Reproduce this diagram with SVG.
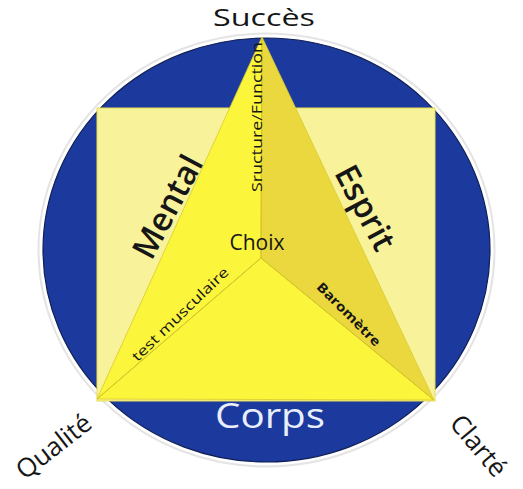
<svg xmlns="http://www.w3.org/2000/svg" width="523" height="489" viewBox="0 0 523 489">
<style>
text{font-family:"Open Sans","Noto Sans","DejaVu Sans",sans-serif;fill:#161616}
.big{font-size:33px;font-weight:600}
.corner{font-size:26px}
.face{stroke:#d9cc2a;stroke-width:0.8;stroke-linejoin:round}
.edge{stroke:#d4c428;stroke-width:1;fill:none}
</style>
<rect width="523" height="489" fill="#ffffff"/>
<g id="circle">
<ellipse cx="266.5" cy="250" rx="228" ry="216.5" fill="none" stroke="#e4e4e4" stroke-width="2"/>
<ellipse cx="266.5" cy="250" rx="223.5" ry="212" fill="#1c3a9e" stroke="#0f1f55" stroke-width="1.2"/>
</g>
<g id="square">
<rect x="97" y="108" width="338" height="293" fill="#f8f29b" stroke="#e6dc50" stroke-width="1"/>
</g>
<g id="triangle">
<polygon class="face" points="262,37 261,258 97,399" fill="#fbf53c"/>
<polygon class="face" points="97,399 261,258 434,400" fill="#fbf53c"/>
<polygon class="face" points="262,37 434,400 261,258" fill="#ebd83e"/>
</g>
<g id="connectors">
<line class="edge" x1="262" y1="37" x2="261" y2="258"/>
<line class="edge" x1="261" y1="258" x2="97" y2="399"/>
<line class="edge" x1="261" y1="258" x2="434" y2="400"/>
</g>
<g id="succes"><text x="264" y="26" text-anchor="middle" font-size="24" textLength="102" lengthAdjust="spacingAndGlyphs">Succès</text></g>
<g id="mental"><text class="big" transform="translate(170,208) rotate(-62)" text-anchor="middle" dominant-baseline="middle">Mental</text></g>
<g id="esprit"><text class="big" transform="translate(363,209) rotate(62)" text-anchor="middle" dominant-baseline="middle">Esprit</text></g>
<g id="structure"><text transform="translate(258,117) rotate(-90)" text-anchor="middle" dominant-baseline="middle" font-size="15" textLength="150" lengthAdjust="spacingAndGlyphs">Sructure/Function</text></g>
<g id="choix"><text x="257" y="250" text-anchor="middle" font-size="21">Choix</text></g>
<g id="test"><text transform="translate(181,315) rotate(-44)" text-anchor="middle" dominant-baseline="middle" font-size="14" textLength="128" lengthAdjust="spacingAndGlyphs">test musculaire</text></g>
<g id="barometre"><text transform="translate(348,315) rotate(45)" text-anchor="middle" dominant-baseline="middle" font-size="13" font-weight="700" textLength="84" lengthAdjust="spacingAndGlyphs">Baromètre</text></g>
<g id="corps"><text x="270" y="428" text-anchor="middle" font-size="35" style="fill:#e8eefc" textLength="110" lengthAdjust="spacingAndGlyphs">Corps</text></g>
<g id="qualite"><text class="corner" transform="translate(55,448) rotate(-38)" text-anchor="middle" dominant-baseline="middle">Qualité</text></g>
<g id="clarte"><text class="corner" transform="translate(477,447) rotate(50)" text-anchor="middle" dominant-baseline="middle">Clarté</text></g>
</svg>
